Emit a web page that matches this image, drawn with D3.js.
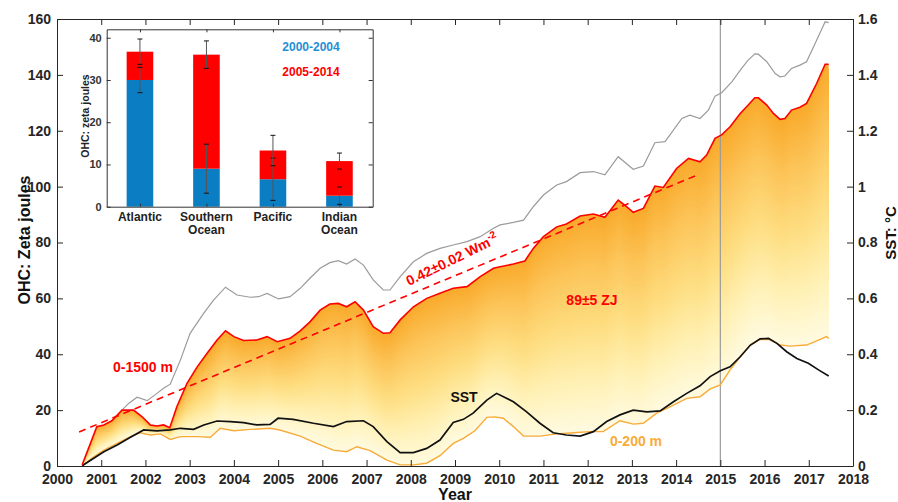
<!DOCTYPE html>
<html>
<head>
<meta charset="utf-8">
<script src="https://cdn.jsdelivr.net/npm/d3@7"></script>
<style>
  html, body { margin: 0; padding: 0; background: #fff; }
  svg { display: block; }
  text { font-family: "Liberation Sans", Arial, Helvetica, sans-serif; }
</style>
</head>
<body>
<svg id="chart" width="898" height="502"></svg>
<script>
// ---- Data -------------------------------------------------------------
// Ocean heat content, 0-1500 m (ZJ), [year, value]
const ohc1500 = [
  [2000.57,0.4],[2000.90,14.1],[2001.06,14.7],[2001.24,16.2],[2001.47,20.0],[2001.73,20.0],
  [2001.92,17.7],[2002.11,14.7],[2002.26,14.3],[2002.41,14.7],[2002.55,13.7],[2002.71,21.2],
  [2002.94,29.6],[2003.17,35.5],[2003.39,40.3],[2003.62,45.1],[2003.81,48.4],[2004.00,46.3],
  [2004.22,44.9],[2004.52,45.1],[2004.75,46.3],[2004.98,44.5],[2005.27,45.7],[2005.50,48.4],
  [2005.72,51.6],[2005.95,55.8],[2006.17,58.0],[2006.36,58.2],[2006.55,57.0],[2006.74,58.8],
  [2006.93,55.8],[2007.15,49.9],[2007.38,47.5],[2007.53,47.7],[2007.76,52.3],[2008.06,57.0],
  [2008.36,60.0],[2008.66,61.8],[2008.96,63.6],[2009.27,64.2],[2009.57,67.8],[2009.87,70.8],
  [2010.02,71.3],[2010.32,72.3],[2010.58,73.4],[2010.77,77.9],[2011.00,82.1],[2011.30,85.6],
  [2011.52,86.6],[2011.83,89.5],[2012.13,90.2],[2012.39,89.0],[2012.69,95.2],[2012.88,92.8],
  [2013.03,90.8],[2013.26,92.2],[2013.52,100.2],[2013.71,99.7],[2014.01,106.5],[2014.28,110.1],
  [2014.54,108.9],[2014.69,111.3],[2014.88,117.3],[2015.03,118.5],[2015.22,121.4],[2015.45,126.2],
  [2015.63,129.2],[2015.78,131.8],[2015.86,131.8],[2016.05,129.2],[2016.20,126.2],[2016.35,124.1],
  [2016.46,124.4],[2016.61,127.4],[2016.80,128.4],[2016.95,129.8],[2017.18,137.0],[2017.37,143.8],
  [2017.45,143.8]
];

// Full-depth ocean heat content (ZJ), grey curve
const ohcTotal = [
  [2001.47,20.0],[2001.62,22.4],[2001.81,24.6],[2002.04,23.4],[2002.26,26.0],[2002.41,27.8],
  [2002.56,29.3],[2002.79,37.9],[2003.01,47.5],[2003.32,54.7],[2003.54,59.4],[2003.81,64.0],
  [2004.07,61.2],[2004.37,60.4],[2004.56,60.6],[2004.75,61.8],[2005.01,59.8],[2005.27,60.6],
  [2005.50,63.6],[2005.72,67.2],[2005.95,70.8],[2006.17,72.8],[2006.36,73.5],[2006.55,72.3],
  [2006.74,74.1],[2006.93,71.9],[2007.15,66.6],[2007.38,63.0],[2007.53,63.0],[2007.76,67.8],
  [2008.06,73.1],[2008.36,76.1],[2008.66,77.9],[2008.96,79.1],[2009.27,80.3],[2009.57,82.1],
  [2009.87,85.1],[2010.02,86.3],[2010.32,87.2],[2010.55,88.0],[2010.77,92.8],[2011.00,97.0],
  [2011.30,100.6],[2011.52,101.8],[2011.83,105.0],[2012.13,105.4],[2012.39,104.2],[2012.69,110.7],
  [2013.03,106.2],[2013.26,107.4],[2013.52,115.7],[2013.75,116.1],[2014.13,124.4],[2014.31,125.6],
  [2014.54,124.4],[2014.73,127.4],[2014.88,132.4],[2015.03,133.6],[2015.26,137.5],[2015.48,142.3],
  [2015.63,145.3],[2015.78,147.5],[2015.86,147.4],[2016.05,144.7],[2016.24,140.5],[2016.35,139.3],
  [2016.46,139.6],[2016.61,142.3],[2016.80,143.5],[2016.95,144.7],[2017.18,152.5],[2017.37,159.0],
  [2017.45,158.7]
];

// Ocean heat content, 0-200 m (ZJ)
const ohc200 = [
  [2000.57,0.1],[2000.83,3.3],[2001.06,5.7],[2001.36,8.1],[2001.66,10.5],[2001.88,11.9],
  [2002.11,11.1],[2002.34,11.5],[2002.56,9.5],[2002.79,10.5],[2003.17,10.5],[2003.47,10.3],
  [2003.69,13.5],[2004.00,12.6],[2004.37,13.1],[2004.82,13.5],[2005.04,12.9],[2005.50,10.7],
  [2005.87,8.1],[2006.25,5.7],[2006.55,5.1],[2006.78,6.9],[2007.08,5.5],[2007.46,2.1],
  [2007.76,0.4],[2008.06,0.4],[2008.36,1.0],[2008.66,3.7],[2008.96,8.1],[2009.19,9.9],
  [2009.45,12.6],[2009.72,17.4],[2009.90,17.6],[2010.09,17.1],[2010.32,14.1],[2010.55,10.7],
  [2010.92,10.7],[2011.30,11.5],[2011.68,11.9],[2012.05,12.3],[2012.35,12.3],[2012.73,16.2],
  [2013.03,15.0],[2013.26,15.3],[2013.56,18.9],[2013.86,21.2],[2014.24,24.2],[2014.54,24.8],
  [2014.77,27.6],[2015.00,29.0],[2015.22,34.4],[2015.45,39.1],[2015.68,43.3],[2015.90,45.3],
  [2016.09,45.3],[2016.35,43.3],[2016.58,42.9],[2016.95,43.3],[2017.18,44.8],[2017.40,46.3],
  [2017.45,45.7]
];

// Sea surface temperature anomaly (°C), right axis
const sst = [
  [2000.57,0.001],[2000.83,0.028],[2001.06,0.051],[2001.36,0.075],[2001.66,0.103],[2001.96,0.129],
  [2002.26,0.126],[2002.56,0.129],[2002.79,0.135],[2003.09,0.131],[2003.32,0.147],[2003.62,0.161],
  [2003.92,0.159],[2004.22,0.155],[2004.52,0.147],[2004.82,0.149],[2005.00,0.171],[2005.34,0.167],
  [2005.80,0.153],[2006.25,0.141],[2006.55,0.159],[2006.93,0.162],[2007.15,0.141],[2007.46,0.087],
  [2007.76,0.048],[2008.06,0.048],[2008.36,0.063],[2008.66,0.093],[2008.96,0.156],[2009.19,0.167],
  [2009.41,0.189],[2009.72,0.236],[2009.94,0.260],[2010.32,0.230],[2010.62,0.194],[2010.92,0.153],
  [2011.22,0.119],[2011.52,0.111],[2011.83,0.107],[2012.13,0.123],[2012.43,0.159],[2012.73,0.183],
  [2013.03,0.200],[2013.34,0.194],[2013.64,0.197],[2013.94,0.230],[2014.24,0.260],[2014.54,0.287],
  [2014.77,0.320],[2015.00,0.341],[2015.22,0.355],[2015.45,0.391],[2015.68,0.433],[2015.90,0.455],
  [2016.09,0.457],[2016.28,0.439],[2016.50,0.409],[2016.73,0.385],[2016.99,0.368],[2017.22,0.344],
  [2017.45,0.322]
];

// Linear trend of 0-1500 m heat content
const trendYears  = [2000.5, 2014.5];
const trendValues = [12.2, 104.3];

// Marker year (vertical reference line)
const markerYear = 2015;

// Axis ticks
const yearTicks = d3.range(2000, 2019);
const ohcTicks  = [0, 20, 40, 60, 80, 100, 120, 140, 160];
const sstTicks  = [0, 0.2, 0.4, 0.6, 0.8, 1, 1.2, 1.4, 1.6];

// Inset: basin heat gain by period (ZJ)
const basinLabels  = [["Atlantic"], ["Southern", "Ocean"], ["Pacific"], ["Indian", "Ocean"]];
const gain2000_2004 = [30.0, 9.0, 6.5, 2.6];
const gain2005_2014 = [6.7, 27.0, 6.8, 8.2];
const err2000_2004  = [3.0, 5.8, 5.0, 2.05];
const errCombined   = [3.0, 3.25, 3.6, 1.9];
const insetTicks    = [0, 10, 20, 30, 40];
const periodNames   = ["2000-2004", "2005-2014"];

// ---- Layout -----------------------------------------------------------
const svg = d3.select("#chart");
const AX = "#262626";
const RED = "#ff0000";
const ORANGE = "#f9ab3a";
const BLUE = "#0b7dc2";

const x  = d3.scaleLinear().domain([2000, 2018]).range([57, 853]);
const yL = d3.scaleLinear().domain([0, 160]).range([466, 19]);
const yR = d3.scaleLinear().domain([0, 1.6]).range([466, 19]);

// ---- Gradient fill between the 0-200 m and 0-1500 m curves ------------
const lowerAt = d3.scaleLinear().domain(ohc200.map(d => d[0])).range(ohc200.map(d => d[1])).clamp(true);
const upperAt = d3.scaleLinear().domain(ohc1500.map(d => d[0])).range(ohc1500.map(d => d[1])).clamp(true);
const fillYears = Array.from(new Set(ohc200.map(d => d[0]).concat(ohc1500.map(d => d[0])))).sort((a, b) => a - b);

const ramp = d3.scaleLinear()
  .domain([0, 0.25, 0.5, 0.75, 1])
  .range(["#fffbe2", "#fff0b2", "#fedd80", "#fcc55a", "#f9ab2c"])
  .interpolate(d3.interpolateRgb);

const fillG = svg.append("g");
const nBands = 70;
for (let i = nBands; i >= 1; i--) {
  const t = i / nBands;
  const band = d3.area()
    .x(d => x(d))
    .y0(d => yL(lowerAt(d)))
    .y1(d => yL(lowerAt(d) + t * (upperAt(d) - lowerAt(d))));
  fillG.append("path")
    .attr("d", band(fillYears))
    .attr("fill", ramp(t));
}

// Vertical reference line
svg.append("line")
  .attr("x1", x(markerYear)).attr("x2", x(markerYear))
  .attr("y1", yL(160)).attr("y2", yL(0))
  .attr("stroke", "#9a9a9a").attr("stroke-width", 1.2);

// ---- Curves -----------------------------------------------------------
const lineL = d3.line().x(d => x(d[0])).y(d => yL(d[1]));
const lineR = d3.line().x(d => x(d[0])).y(d => yR(d[1]));

svg.append("path").attr("d", lineL(ohcTotal))
  .attr("fill", "none").attr("stroke", "#9b9b9b").attr("stroke-width", 1.2);
svg.append("path").attr("d", lineL(ohc200))
  .attr("fill", "none").attr("stroke", ORANGE).attr("stroke-width", 1.4);
svg.append("path").attr("d", lineR(sst))
  .attr("fill", "none").attr("stroke", "#111").attr("stroke-width", 1.7);
svg.append("path").attr("d", lineL(ohc1500))
  .attr("fill", "none").attr("stroke", RED).attr("stroke-width", 1.6);

svg.append("path")
  .attr("d", lineL(trendYears.map((yr, i) => [yr, trendValues[i]])))
  .attr("fill", "none").attr("stroke", RED).attr("stroke-width", 1.6)
  .attr("stroke-dasharray", "7,5");

// ---- Axes ---------------------------------------------------------------
function styleAxis(g) {
  g.selectAll("path.domain").attr("stroke", AX).attr("stroke-width", 1);
  g.selectAll(".tick line").attr("stroke", AX).attr("stroke-width", 1);
  g.selectAll(".tick text").attr("fill", AX)
    .style("font-size", "14px").style("font-weight", "bold")
    .style("font-family", '"Liberation Sans", Arial, Helvetica, sans-serif');
}

svg.append("g").attr("transform", `translate(0,${yL(0)})`)
  .call(d3.axisBottom(x).tickValues(yearTicks).tickFormat(d3.format("d"))
    .tickSizeInner(-6).tickSizeOuter(0).tickPadding(8))
  .call(styleAxis);
svg.append("g").attr("transform", `translate(0,${yL(160)})`)
  .call(d3.axisTop(x).tickValues(yearTicks).tickFormat("")
    .tickSizeInner(-6).tickSizeOuter(0))
  .call(styleAxis);
svg.append("g").attr("transform", `translate(${x(2000)},0)`)
  .call(d3.axisLeft(yL).tickValues(ohcTicks).tickFormat(d3.format("d"))
    .tickSizeInner(-6).tickSizeOuter(0).tickPadding(6))
  .call(styleAxis);
svg.append("g").attr("transform", `translate(${x(2018)},0)`)
  .call(d3.axisRight(yR).tickValues(sstTicks).tickFormat(d3.format(""))
    .tickSizeInner(-6).tickSizeOuter(0).tickPadding(5))
  .call(styleAxis);

// Axis titles
svg.append("text").attr("transform", "translate(30,240) rotate(-90)")
  .attr("text-anchor", "middle").attr("fill", "#111")
  .style("font-size", "16px").style("font-weight", "bold")
  .text("OHC: Zeta joules");
svg.append("text").attr("transform", "translate(896,233) rotate(-90)")
  .attr("text-anchor", "middle").attr("fill", "#111")
  .style("font-size", "15px").style("font-weight", "bold")
  .text("SST: °C");
svg.append("text").attr("x", 455).attr("y", 500)
  .attr("text-anchor", "middle").attr("fill", "#111")
  .style("font-size", "16px").style("font-weight", "bold")
  .text("Year");

// ---- Annotations --------------------------------------------------------
const labelFont = g => g.style("font-size", "14px").style("font-weight", "bold");

svg.append("text").attr("x", 143).attr("y", 372).attr("text-anchor", "middle")
  .attr("fill", RED).call(labelFont).text("0-1500 m");
svg.append("text").attr("x", 592).attr("y", 305).attr("text-anchor", "middle")
  .attr("fill", RED).call(labelFont).text("89±5 ZJ");
svg.append("text").attr("x", 464).attr("y", 402).attr("text-anchor", "middle")
  .attr("fill", "#111").call(labelFont).text("SST");
svg.append("text").attr("x", 636).attr("y", 446).attr("text-anchor", "middle")
  .attr("fill", ORANGE).call(labelFont).text("0-200 m");

const trendLabel = svg.append("text")
  .attr("transform", "translate(409,286) rotate(-26)")
  .attr("fill", RED).call(labelFont);
trendLabel.append("tspan").text("0.42±0.02 Wm");
trendLabel.append("tspan").attr("dy", -6).style("font-size", "10px").text("-2");

// ---- Inset bar chart ----------------------------------------------------
const ix = d3.scaleLinear().domain([0.5, 4.5]).range([106.7, 372.7]);
const iy = d3.scaleLinear().domain([0, 42]).range([206.7, 29.3]);
const inset = svg.append("g");
const barW = ix(1.2) - ix(0.8);

inset.append("rect")
  .attr("x", ix(0.5)).attr("y", iy(42))
  .attr("width", ix(4.5) - ix(0.5)).attr("height", iy(0) - iy(42))
  .attr("fill", "#fff");

basinLabels.forEach((lab, i) => {
  const cx = ix(i + 1);
  const early = gain2000_2004[i];
  const total = early + gain2005_2014[i];
  inset.append("rect")
    .attr("x", cx - barW / 2).attr("width", barW)
    .attr("y", iy(early)).attr("height", iy(0) - iy(early))
    .attr("fill", BLUE);
  inset.append("rect")
    .attr("x", cx - barW / 2).attr("width", barW)
    .attr("y", iy(total)).attr("height", iy(early) - iy(total))
    .attr("fill", RED);
  [[early, err2000_2004[i]], [total, errCombined[i]]].forEach(([v, e]) => {
    inset.append("line")
      .attr("x1", cx).attr("x2", cx).attr("y1", iy(v - e)).attr("y2", iy(v + e))
      .attr("stroke", "#555").attr("stroke-width", 1);
    [v - e, v + e].forEach(c => {
      inset.append("line")
        .attr("x1", cx - 2.5).attr("x2", cx + 2.5).attr("y1", iy(c)).attr("y2", iy(c))
        .attr("stroke", "#111").attr("stroke-width", 1);
    });
  });
  const t = inset.append("text").attr("text-anchor", "middle").attr("fill", "#222")
    .style("font-size", "12px").style("font-weight", "bold");
  lab.forEach((line, k) => {
    t.append("tspan").attr("x", cx).attr("y", 221 + k * 13).text(line);
  });
});

function styleInset(g) {
  g.selectAll("path.domain").attr("stroke", "#333").attr("stroke-width", 1);
  g.selectAll(".tick line").attr("stroke", "#333");
  g.selectAll(".tick text").attr("fill", "#333")
    .style("font-size", "11px").style("font-weight", "bold")
    .style("font-family", '"Liberation Sans", Arial, Helvetica, sans-serif');
}
inset.append("g").attr("transform", `translate(${ix(0.5)},0)`)
  .call(d3.axisLeft(iy).tickValues(insetTicks).tickSizeInner(-4).tickSizeOuter(0).tickPadding(5))
  .call(styleInset);
inset.append("g").attr("transform", `translate(${ix(4.5)},0)`)
  .call(d3.axisRight(iy).tickValues(insetTicks).tickFormat("").tickSizeInner(-4).tickSizeOuter(0))
  .call(styleInset);
inset.append("g").attr("transform", `translate(0,${iy(0)})`)
  .call(d3.axisBottom(ix).tickValues([1, 2, 3, 4]).tickFormat("").tickSizeInner(-3).tickSizeOuter(0))
  .call(styleInset);
inset.append("g").attr("transform", `translate(0,${iy(42)})`)
  .call(d3.axisTop(ix).tickValues([1, 2, 3, 4]).tickFormat("").tickSizeInner(-3).tickSizeOuter(0))
  .call(styleInset);

inset.append("text").attr("transform", `translate(89,${(iy(0) + iy(42)) / 2 - 2}) rotate(-90)`)
  .attr("text-anchor", "middle").attr("fill", "#222")
  .style("font-size", "10.5px").style("font-weight", "bold")
  .text("OHC: zeta joules");

inset.append("text").attr("x", 311).attr("y", 51).attr("text-anchor", "middle")
  .attr("fill", "#1e8fd6").style("font-size", "12px").style("font-weight", "bold")
  .text(periodNames[0]);
inset.append("text").attr("x", 311).attr("y", 76).attr("text-anchor", "middle")
  .attr("fill", RED).style("font-size", "12px").style("font-weight", "bold")
  .text(periodNames[1]);
</script>
</body>
</html>
